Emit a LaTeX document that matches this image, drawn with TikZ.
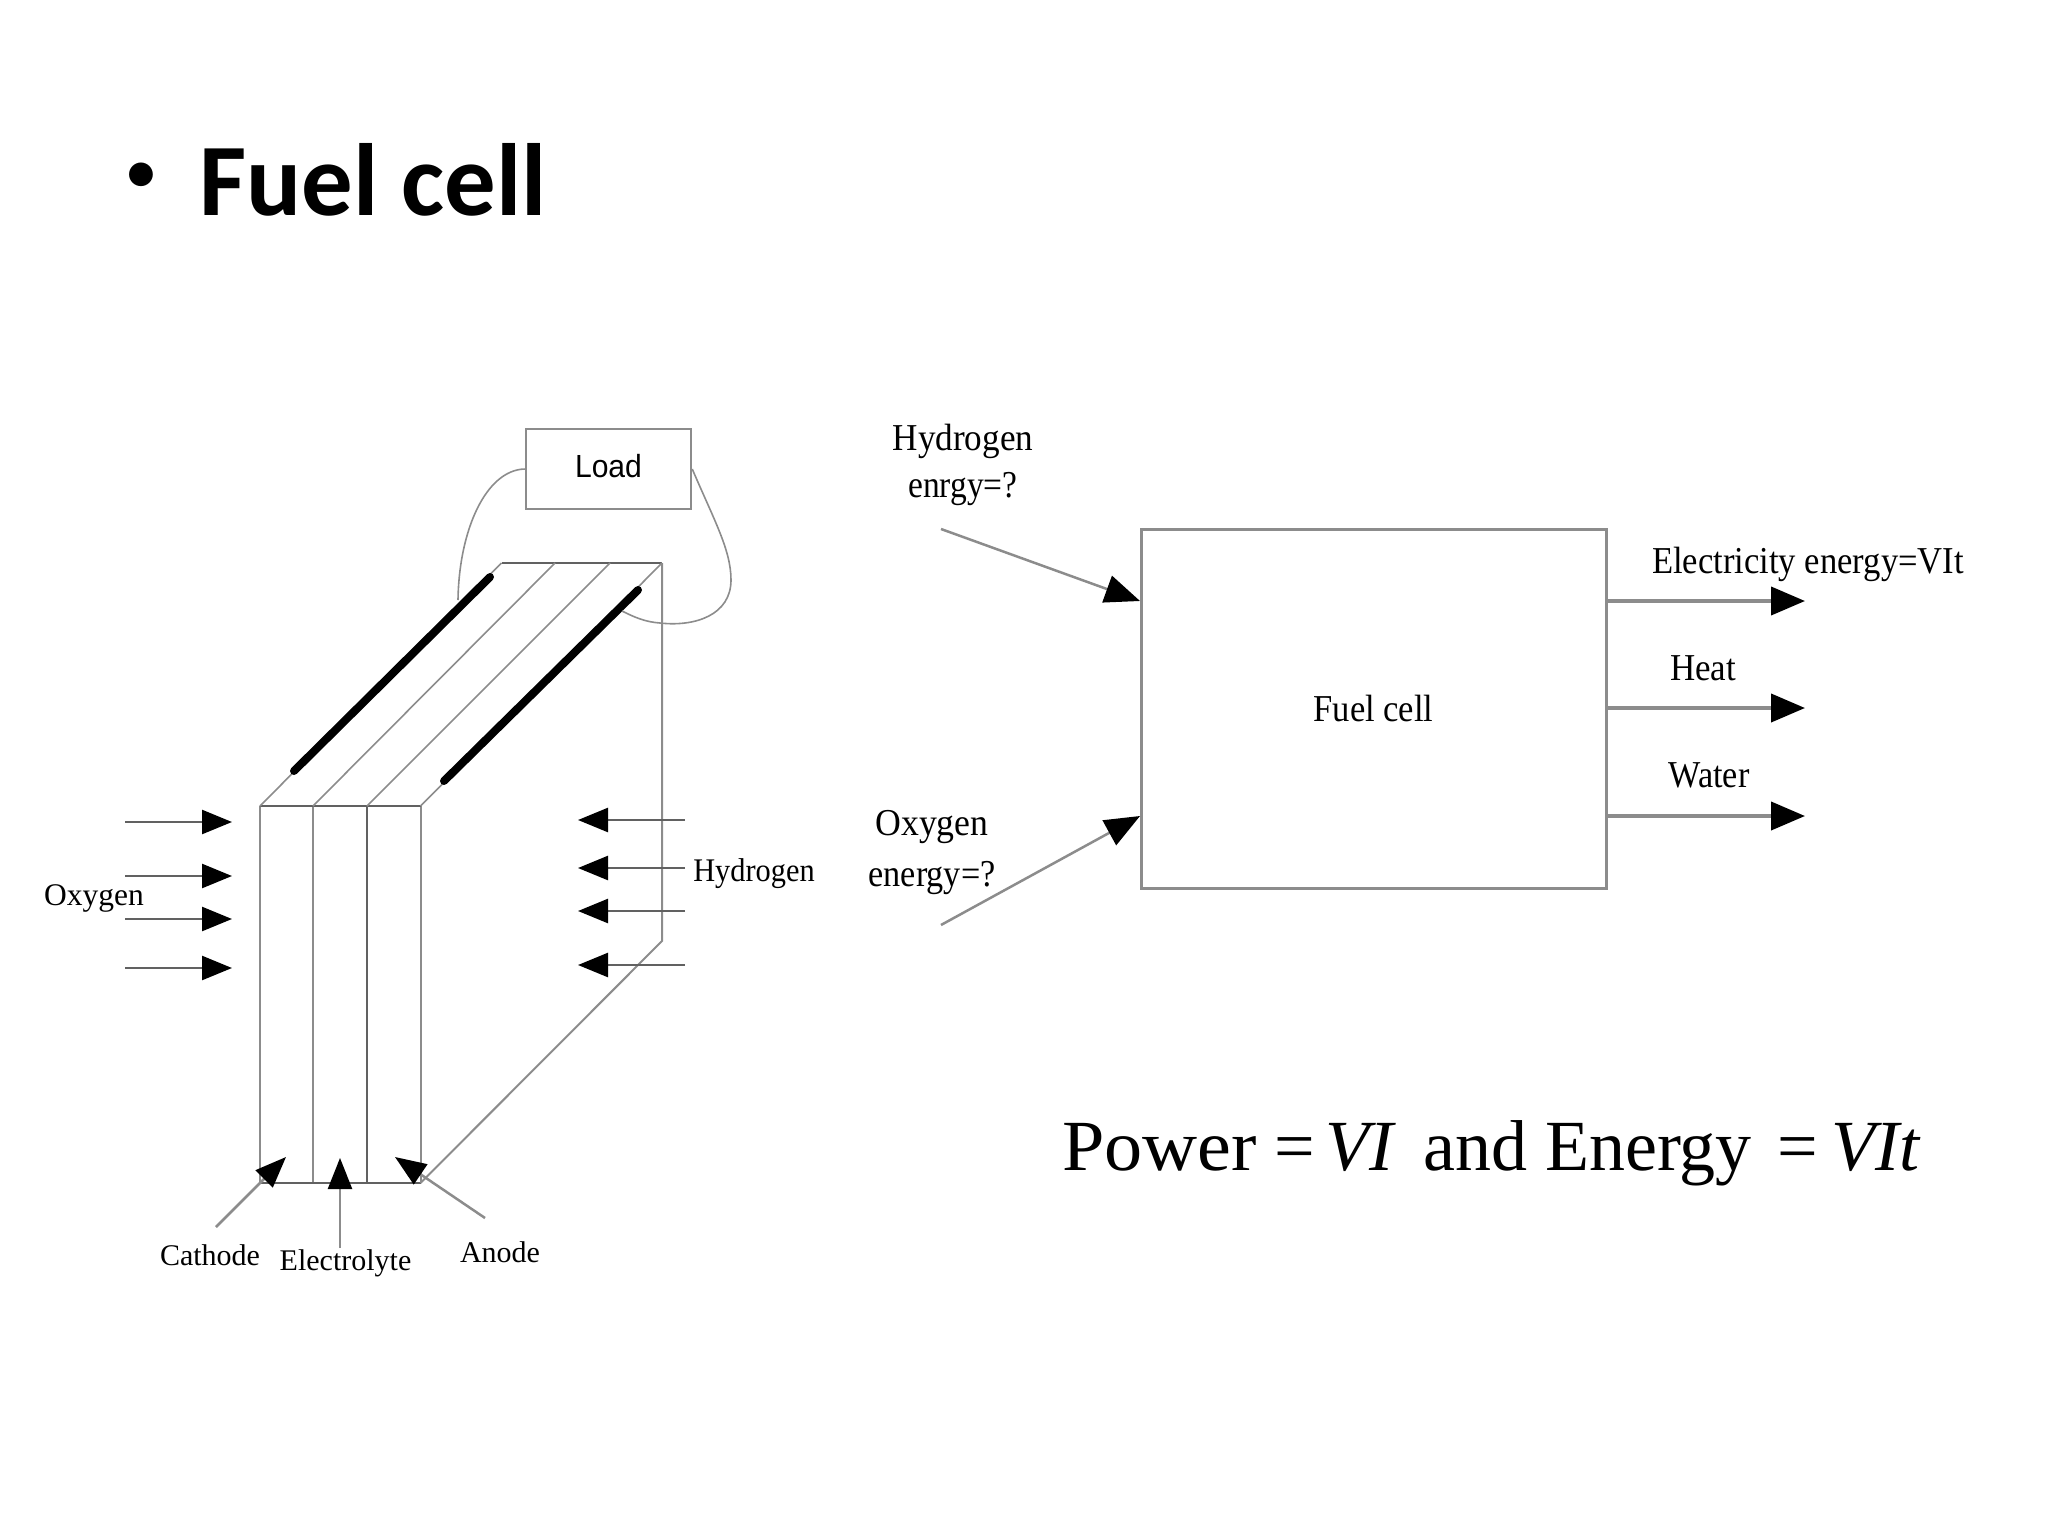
\documentclass[tikz,border=0pt]{standalone}
\usepackage{fontspec}
\setmainfont{Liberation Serif}
\newfontfamily\titlefont{Carlito}
\newfontfamily\loadfont{Liberation Sans}
\usetikzlibrary{arrows.meta}
\newcommand{\fs}[1]{\fontsize{#1}{#1}\selectfont}
\newcommand{\sq}[2]{\scalebox{#1}[1]{#2}}
\definecolor{ln}{gray}{0.55}
\definecolor{lndark}{gray}{0.38}
\tikzset{
  thin line/.style={draw=ln,line width=2pt},
  dark line/.style={draw=lndark,line width=2.5pt},
  electrode/.style={draw=black,line width=8pt,line cap=round},
  arr/.style={draw=lndark,line width=2.5pt,-{Triangle[length=30pt,width=24pt,black]}},
  labarr/.style={draw=ln,line width=2.5pt,-{Triangle[length=31pt,width=24pt,black]}},
  bigarr/.style={draw=ln,line width=4pt,-{Triangle[length=34pt,width=28pt,black]}},
  diagarr/.style={draw=ln,line width=2.5pt,-{Triangle[length=35pt,width=28pt,black]}},
  box/.style={draw=ln,line width=3pt,inner sep=0pt,anchor=center},
  lab/.style={inner sep=0pt,anchor=center,font=\fs{#1}},
  lab/.default=31
}
\begin{document}
\begin{tikzpicture}[x=1pt,y=-1pt]
\useasboundingbox (0,0) rectangle (2048,1536);
% title
\node[inner sep=0pt,anchor=center,font=\titlefont\bfseries\fs{56}] (bullet) at (141,177) {•};
\node[inner sep=0pt,anchor=base west,font=\titlefont\bfseries\fs{102.7}] (title) at (199,215) {Fuel cell};

% load and fuel cell stack
\node[box,line width=2.5pt,minimum width=165pt,minimum height=80pt] (load) at (608.5,469) {\raisebox{6pt}{\loadfont\fs{32}\sq{.94}{Load}}};
\coordinate (fa) at (260,806); \coordinate (fb) at (313,806); \coordinate (fc) at (367,806); \coordinate (fd) at (420.5,806);
\coordinate (ba) at (501.5,563); \coordinate (bb) at (555,563); \coordinate (bc) at (610,563); \coordinate (bd) at (662,563);
\coordinate (la) at (260,1183); \coordinate (lb) at (313,1183); \coordinate (lc) at (367,1183); \coordinate (ld) at (420.5,1183);
\coordinate (rb) at (662,941);
\draw[thin line] (fa) -- (la);
\draw[thin line] (fb) -- (lb);
\draw[dark line,line width=2pt] (fc) -- (lc);
\draw[thin line] (fd) -- (ld);
\draw[dark line] (fa) -- (fd);
\draw[dark line] (la) -- (ld);
\draw[dark line] (ba) -- (bd);
\draw[thin line,line width=1.6pt] (fa) -- (ba);
\draw[thin line,line width=1.6pt] (fb) -- (bb);
\draw[thin line,line width=1.6pt] (fc) -- (bc);
\draw[thin line,line width=1.6pt] (fd) -- (bd);
\draw[thin line] (bd) -- (rb) -- (ld);
\coordinate (e1a) at (294,771); \coordinate (e1b) at (490,577);
\coordinate (e2a) at (444,781); \coordinate (e2b) at (638,590);
\draw[electrode] (e1a) -- (e1b);
\draw[electrode] (e2a) -- (e2b);
% wires
\coordinate (wl) at (458,600); \coordinate (wr) at (622,611);
\draw[thin line,line width=1.6pt] (load.west) .. controls (486,470) and (459,530) .. (wl);
\draw[thin line,line width=1.6pt] (load.east) .. controls (714,520) and (731,550) .. (731,580)
  .. controls (731,615) and (695,627) .. (660,623) .. controls (645,622) and (634,617) .. (wr);

% oxygen arrows
\foreach \n/\y in {1/822,2/876,3/919,4/968}{
  \coordinate (os\n) at (125,\y); \coordinate (ot\n) at (232,\y);
  \draw[arr] (os\n) -- (ot\n);
}
\foreach \n/\y in {1/820,2/868,3/911,4/965}{
  \coordinate (hs\n) at (685,\y); \coordinate (ht\n) at (578,\y);
  \draw[arr] (hs\n) -- (ht\n);
}
\node[lab=31.5] (oxy) at (94,898) {Oxygen};
\node[lab=33] (hyd) at (754,874) {\sq{.92}{Hydrogen}};

% layer labels
\node[lab=30] (cat) at (210,1255) {Cathode};
\node[lab=30] (ele) at (345.5,1263) {Electrolyte};
\node[lab=30] (ano) at (500,1252) {Anode};
\coordinate (cs) at (216,1227); \coordinate (ct) at (286,1157);
\coordinate (es) at (340,1248); \coordinate (et) at (340,1158);
\coordinate (as) at (485,1218); \coordinate (at) at (395,1157);
\draw[labarr] (cs) -- (ct);
\draw[labarr] (es) -- (et);
\draw[labarr] (as) -- (at);

% block diagram
\node[box,minimum width=465pt,minimum height=359pt] (fuel) at (1373.5,708.5) {\fs{38}\sq{.91}{Fuel cell}};
\coordinate (hin) at (1140,601); \coordinate (oin) at (1140,816);
\coordinate (hst) at (941,529); \coordinate (ost) at (941,925);
\draw[diagarr] (hst) -- (hin);
\draw[diagarr] (ost) -- (oin);
\coordinate (o1) at (1606,601); \coordinate (t1) at (1805,601);
\coordinate (o2) at (1606,708); \coordinate (t2) at (1805,708);
\coordinate (o3) at (1606,816); \coordinate (t3) at (1805,816);
\draw[bigarr] (o1) -- (t1);
\draw[bigarr] (o2) -- (t2);
\draw[bigarr] (o3) -- (t3);

\node[lab=38] (h2) at (963,441) {\sq{.925}{Hydrogen}};
\node[lab=38] (en1) at (963,489) {\sq{.88}{enrgy=?}};
\node[lab=38] (o2l) at (932,827) {\sq{.94}{Oxygen}};
\node[lab=38] (en2) at (932,878) {\sq{.9}{energy=?}};
\node[lab=38] (elec) at (1808,564) {\sq{.91}{Electricity energy=VIt}};
\node[lab=38] (heat) at (1703,668) {\sq{.92}{Heat}};
\node[lab=38] (water) at (1709,775) {\sq{.9}{Water}};

% formula
\node[inner sep=0pt,anchor=base west,font=\fs{72}] (formula) at (1062,1170)
  {\sq{1.058}{Power} =\hspace{-8pt} \textit{VI} \hspace{9pt}and Energy\hspace{8pt} =\hspace{-5pt} \textit{VIt}};
\end{tikzpicture}
\end{document}
